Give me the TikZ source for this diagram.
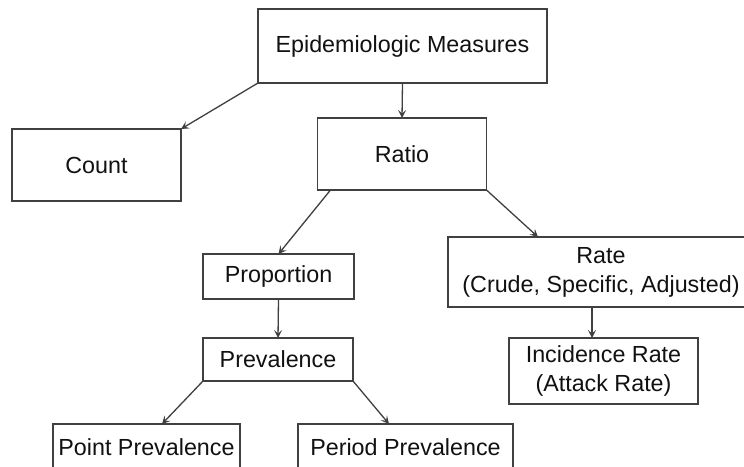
\documentclass[tikz,border=0pt]{standalone}
\usepackage{fontspec}
\setmainfont{Liberation Sans}
\usetikzlibrary{arrows.meta}
\definecolor{linec}{HTML}{404040}
\definecolor{textc}{HTML}{111111}
\begin{document}
\begin{tikzpicture}[x=1pt,y=-1pt,
  box/.style={draw=linec, line width=1.6pt, fill=white, inner sep=0pt, outer sep=0pt,
    text=textc, font=\fontsize{23.3}{29}\selectfont, align=center},
  arr/.style={draw=linec, line width=1.3pt, -{Stealth[length=8pt,width=8pt,inset=3.5pt]}}]
\useasboundingbox (0,0) rectangle (744,466);
\clip (0,0) rectangle (744,466);
\fill[white] (0,0) rectangle (744,466);
\node[box, minimum width=289pt, minimum height=74pt] (em) at (402.5,46) {Epidemiologic Measures};
\node[box, minimum width=169pt, minimum height=72pt] (count) at (96.5,165) {Count};
\node[box, minimum width=169pt, minimum height=72pt] (ratio) at (402,154) {Ratio};
\node[box, minimum width=151pt, minimum height=45pt] (prop) at (278.5,276.5) {Proportion};
\node[box, minimum width=306pt, minimum height=70pt] (rate) at (601,272) {Rate\\(Crude, Specific, Adjusted)};
\node[box, minimum width=150pt, minimum height=43pt] (prev) at (278,359.5) {Prevalence};
\node[box, minimum width=189pt, minimum height=66pt] (inc) at (603.5,371) {Incidence Rate\\(Attack Rate)};
\node[box, minimum width=187pt, minimum height=46pt] (point) at (146.5,447) {Point Prevalence};
\node[box, minimum width=215pt, minimum height=46pt] (period) at (405.5,447) {Period Prevalence};
\draw[arr] (em.south west) -- (count.north east);
\draw[arr] (em.south) -- (ratio.north);
\draw[arr] ([xshift=13pt]ratio.south west) -- (prop.north);
\draw[arr] (ratio.south east) -- ([xshift=90pt]rate.north west);
\draw[arr] (prop.south) -- (prev.north);
\draw[arr] ([xshift=-9pt]rate.south) -- ([xshift=-9pt]rate.south |- inc.north);
\draw[arr] (prev.south west) -- ([xshift=15.5pt]point.north);
\draw[arr] (prev.south east) -- ([xshift=-16.5pt]period.north);
\end{tikzpicture}
\end{document}
